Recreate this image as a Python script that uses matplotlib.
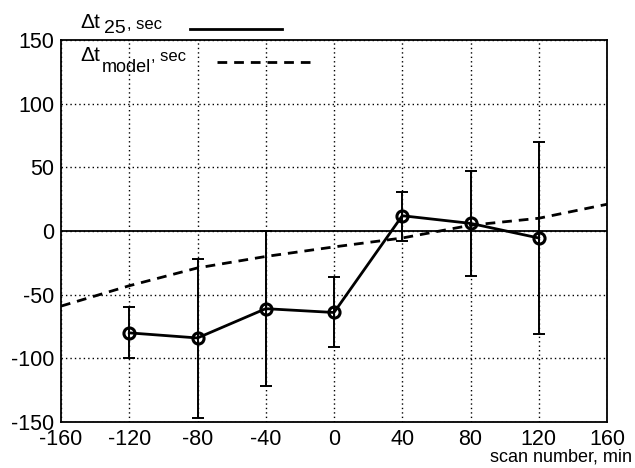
import matplotlib
matplotlib.use("Agg")
import matplotlib.pyplot as plt
import numpy as np

plt.rcParams['font.family'] = ['Liberation Sans', 'DejaVu Sans']

# Data
scan = [-120, -80, -40, 0, 40, 80, 120]
dt25 = [-80, -84, -61, -64, 12, 6, -5.5]
err_up = [20, 62, 61, 28, 19, 41, 75.5]
err_dn = [20, 63, 61, 27, 20, 41, 75.5]

model_x = [-160, -120, -80, -40, 0, 40, 80, 120, 160]
model_y = [-59, -43, -29, -20, -12.5, -5.5, 4.5, 10, 21]

xticks = [-160, -120, -80, -40, 0, 40, 80, 120, 160]
yticks = [-150, -100, -50, 0, 50, 100, 150]

W, H = 635, 468
fig = plt.figure(figsize=(W / 100, H / 100), dpi=100)
L, R, T, B = 61, 607, 40, 422
ax = fig.add_axes([L / W, 1 - B / H, (R - L) / W, (B - T) / H])

ax.set_xlim(-160, 160)
ax.set_ylim(-150, 150)
ax.set_xticks(xticks)
ax.set_yticks(yticks)
ax.set_xticklabels([str(v) for v in xticks])
ax.set_yticklabels([str(v) for v in yticks])
ax.tick_params(direction='in', length=0, labelsize=15.5, colors='black')
ax.tick_params(axis='x', pad=5)
ax.tick_params(axis='y', pad=5)
ax.grid(True, color='black', linestyle=(0, (1, 2.2)), linewidth=1.0)
for s in ax.spines.values():
    s.set_linewidth(1.3)
    s.set_color('black')

ax.axhline(0, color='black', linewidth=1.3, zorder=2)

ax.plot(model_x, model_y, color='black', linestyle=(0, (3.5, 2.5)), linewidth=2.0, zorder=3)

ax.errorbar(scan, dt25, yerr=[err_dn, err_up], fmt='none', ecolor='black',
            elinewidth=1.4, capsize=4, capthick=1.4, zorder=4)
ax.plot(scan, dt25, color='black', linewidth=2.0, marker='o', markersize=8,
        markerfacecolor='none', markeredgewidth=2.2, markeredgecolor='black', zorder=5)

def ftxt(px, py, s, size):
    fig.text(px / W, 1 - py / H, s, fontsize=size, va='baseline', ha='left', color='black')

# Legend-like annotations
ftxt(80, 28, "\u0394t", 15)
ftxt(104, 33, "25", 14)
ftxt(127, 29, ", sec", 12)
fig.add_artist(plt.Line2D([190 / W, 282 / W], [1 - 29 / H, 1 - 29 / H], color='black', linewidth=2.0))

ftxt(80, 61, "\u0394t", 15)
ftxt(102, 72, "model", 13)
ftxt(151, 61, ", sec", 12)
fig.add_artist(plt.Line2D([217 / W, 310 / W], [1 - 62 / H, 1 - 62 / H], color='black',
                          linewidth=2.0, linestyle=(0, (3.5, 2.5))))

fig.text(632 / W, 1 - 462 / H, "scan number, min", fontsize=13, ha='right', va='baseline')

fig.savefig("out.png", dpi=100)
